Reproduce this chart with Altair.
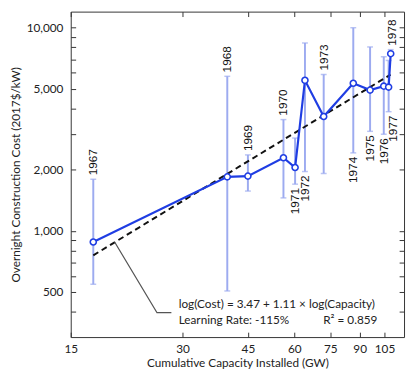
import altair as alt
import pandas as pd

# ---- data ----
years = ["1967", "1968", "1969", "1970", "1971", "1972", "1973", "1974", "1975", "1976", "1977", "1978"]
capacity = [17.25, 39.6, 45.0, 56.1, 60.3, 64.1, 72.0, 86.5, 96.0, 104.5, 107.7, 109.1]
cost = [881, 1845, 1860, 2290, 2050, 5510, 3655, 5330, 4930, 5155, 5100, 7450]
err_lo = [546, 506, 1570, 1453, 1698, 1959, 1918, 2420, 3090, 2990, 3860, 7450]
err_hi = [1795, 5765, 2365, 3530, 2863, 8410, 5890, 10000, 8040, 7195, 6900, 7800]
label_side = ["above", "above", "above", "above", "below", "below", "above",
              "below", "below", "below", "below", "above"]
label_cap = [17.25, 39.6, 45.0, 56.1, 60.3, 64.1, 72.0, 86.5, 96.0, 104.5, 111.0, 110.0]

fit_x = [17.25, 109.0]
fit_y = [758, 5875]

leader_x = [19.7, 25.6, 28.0]
leader_y = [880, 396, 396]

ann_text = ["log(Cost) = 3.47 + 1.11 \u00d7 log(Capacity)", "Learning Rate: -115%", "R\u00b2 = 0.859"]
ann_x = [29.3, 29.3, 71.8]
ann_y = [438, 362, 362]

x_ticks = [15, 30, 45, 60, 75, 90, 105]
y_ticks = [400, 500, 600, 700, 800, 900, 1000, 2000, 3000, 4000, 5000, 6000, 7000, 8000, 9000, 10000]
y_labeled = [500, 1000, 2000, 5000, 10000]

# ---- tables ----
df = pd.DataFrame({"year": years, "cap": capacity, "cost": cost, "lo": err_lo, "hi": err_hi,
                   "side": label_side, "lcap": label_cap})
fit = pd.DataFrame({"cap": fit_x, "cost": fit_y})
leader = pd.DataFrame({"cap": leader_x, "cost": leader_y, "order": list(range(len(leader_x)))})
ann = pd.DataFrame({"text": ann_text, "cap": ann_x, "cost": ann_y})

AX_FONT = "Lato"
xscale = alt.Scale(type="log", domain=[15, 118.5], nice=False)
yscale = alt.Scale(type="log", domain=[300, 12000], nice=False)

label_expr = "indexof(" + str(y_labeled) + ", datum.value) >= 0 ? format(datum.value, ',') : ''"

x_main = alt.Axis(values=x_ticks, ticks=False, domain=False, grid=False, labelPadding=7,
                  labelFont=AX_FONT, labelFontSize=12, labelColor="#222", labelFlush=False,
                  title="Cumulative Capacity Installed (GW)", titleFont=AX_FONT, titleFontSize=12,
                  titleFontWeight="normal", titleColor="#222", titlePadding=3)
y_main = alt.Axis(values=y_ticks, ticks=False, domain=False, grid=False, labelPadding=8,
                  labelExpr=label_expr, labelFont=AX_FONT, labelFontSize=12, labelColor="#222",
                  title="Overnight Construction Cost (2017$/kW)", titleFont=AX_FONT, titleFontSize=12,
                  titleFontWeight="normal", titleColor="#222", titlePadding=4)

def tick_axis(orient, vals):
    return alt.Axis(orient=orient, values=vals, offset=-5, tickSize=5, tickColor="#333", tickWidth=1,
                    domain=False, labels=False, grid=False, title=None)

ERR = "#9dabf0"
BLUE = "#1f3de3"

bars = alt.Chart(df).mark_rule(color=ERR, strokeWidth=2).encode(
    x=alt.X("cap:Q", scale=xscale, axis=x_main),
    y=alt.Y("lo:Q", scale=yscale, axis=y_main),
    y2="hi:Q",
)
cap_lo = alt.Chart(df).mark_tick(color=ERR, thickness=1.5, size=6, orient="horizontal").encode(
    x=alt.X("cap:Q", scale=xscale, axis=None), y=alt.Y("lo:Q", scale=yscale, axis=None))
cap_hi = alt.Chart(df).mark_tick(color=ERR, thickness=1.5, size=6, orient="horizontal").encode(
    x=alt.X("cap:Q", scale=xscale, axis=None), y=alt.Y("hi:Q", scale=yscale, axis=None))

fitline = alt.Chart(fit).mark_line(color="#111", strokeWidth=2, strokeDash=[6, 4]).encode(
    x=alt.X("cap:Q", scale=xscale, axis=tick_axis("bottom", x_ticks)),
    y=alt.Y("cost:Q", scale=yscale, axis=tick_axis("left", y_ticks)),
)
line = alt.Chart(df).mark_line(color=BLUE, strokeWidth=2.2).encode(
    x=alt.X("cap:Q", scale=xscale, axis=tick_axis("top", x_ticks)),
    y=alt.Y("cost:Q", scale=yscale, axis=tick_axis("right", y_ticks)),
    order="year:O",
)
pts = alt.Chart(df).mark_point(shape="circle", size=38, filled=True, fill="white", stroke=BLUE,
                               strokeWidth=1.6, opacity=1).encode(
    x=alt.X("cap:Q", scale=xscale, axis=None), y=alt.Y("cost:Q", scale=yscale, axis=None))

lab_above = alt.Chart(df).transform_filter("datum.side == 'above'").mark_text(
    angle=270, align="left", baseline="middle", dx=4, font="Liberation Sans", fontSize=12, color="#111"
).encode(x=alt.X("lcap:Q", scale=xscale, axis=None), y=alt.Y("hi:Q", scale=yscale, axis=None), text="year:N")
lab_below = alt.Chart(df).transform_filter("datum.side == 'below'").mark_text(
    angle=270, align="right", baseline="middle", dx=-4, font="Liberation Sans", fontSize=12, color="#111"
).encode(x=alt.X("lcap:Q", scale=xscale, axis=None), y=alt.Y("lo:Q", scale=yscale, axis=None), text="year:N")

lead = alt.Chart(leader).mark_line(color="#555", strokeWidth=1.1).encode(
    x=alt.X("cap:Q", scale=xscale, axis=None), y=alt.Y("cost:Q", scale=yscale, axis=None), order="order:Q")
anns = alt.Chart(ann).mark_text(align="left", baseline="middle", font=AX_FONT, fontSize=12, color="#222").encode(
    x=alt.X("cap:Q", scale=xscale, axis=None), y=alt.Y("cost:Q", scale=yscale, axis=None), text="text:N")

chart = alt.layer(bars, cap_lo, cap_hi, fitline, line, pts, lab_above, lab_below, lead, anns).resolve_axis(
    x="independent", y="independent"
).properties(
    width=340, height=332,
    autosize=alt.AutoSizeParams(type="none"),
    padding={"left": 64, "top": 0, "right": 2, "bottom": 36},
    background="white",
).configure_view(stroke="#333", strokeWidth=1)

chart.save("out.html", embed_options={"renderer": "svg", "actions": False})
